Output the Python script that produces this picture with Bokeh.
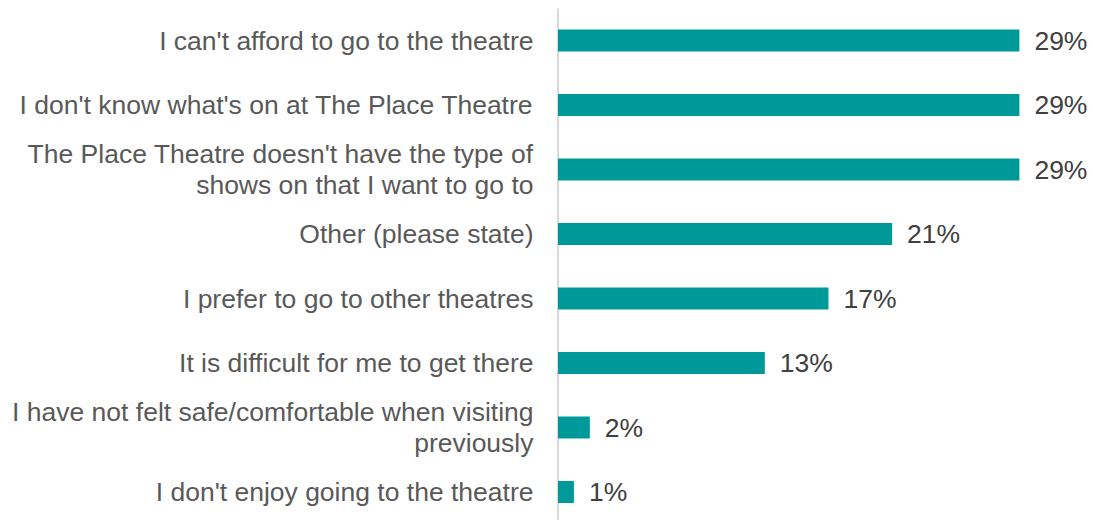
from bokeh.plotting import figure
from bokeh.models import ColumnDataSource, Range1d, Span
from bokeh.core.properties import value
from bokeh.embed import file_html
from bokeh.resources import INLINE

categories = [
    "I can't afford to go to the theatre",
    "I don't know what's on at The Place Theatre",
    "The Place Theatre doesn't have the type of\nshows on that I want to go to",
    "Other (please state)",
    "I prefer to go to other theatres",
    "It is difficult for me to get there",
    "I have not felt safe/comfortable when visiting\npreviously",
    "I don't enjoy going to the theatre",
]
values = [29, 29, 29, 21, 17, 13, 2, 1]
value_labels = ["29%", "29%", "29%", "21%", "17%", "13%", "2%", "1%"]

W, H = 1093, 520
px_per_unit = 15.91
x0_px = 557.5
band_px = 64.5
first_center_px = 40.0

ypos = list(range(len(categories)))
src = ColumnDataSource(dict(y=ypos, v=values, cat=categories, lab=value_labels,
                            zero=[0] * len(values)))

x_range = Range1d(-x0_px / px_per_unit, (W - x0_px) / px_per_unit)
top = -first_center_px / band_px
y_range = Range1d(top + H / band_px, top)

p = figure(width=W, height=H, x_range=x_range, y_range=y_range,
           output_backend="svg", toolbar_location=None,
           min_border=0, min_border_left=0, min_border_right=0,
           min_border_top=0, min_border_bottom=0)
p.xaxis.visible = False
p.yaxis.visible = False
p.xgrid.visible = False
p.ygrid.visible = False
p.outline_line_color = None
p.background_fill_color = "white"
p.border_fill_color = "white"

# vertical axis line from about 8px below the top down to the bottom
p.segment(x0=[0], y0=[top + 8 / band_px], x1=[0], y1=[top + H / band_px],
          line_color="#d9d9d9", line_width=2, level="underlay")

p.hbar(y="y", left=0, right="v", height=22 / band_px, source=src,
       fill_color="#009999", line_color=None)

p.text(x="zero", y="y", text="cat", source=src, x_offset=-24.5,
       text_align="right", text_baseline="middle",
       text_font=value("Liberation Sans"), text_font_size="26.5px",
       text_color="#595959", text_line_height=1.02)

p.text(x="v", y="y", text="lab", source=src, x_offset=15,
       text_align="left", text_baseline="middle",
       text_font=value("Liberation Sans"), text_font_size="26.5px",
       text_color="#404040")

open("out.html", "w").write(file_html(p, INLINE))
